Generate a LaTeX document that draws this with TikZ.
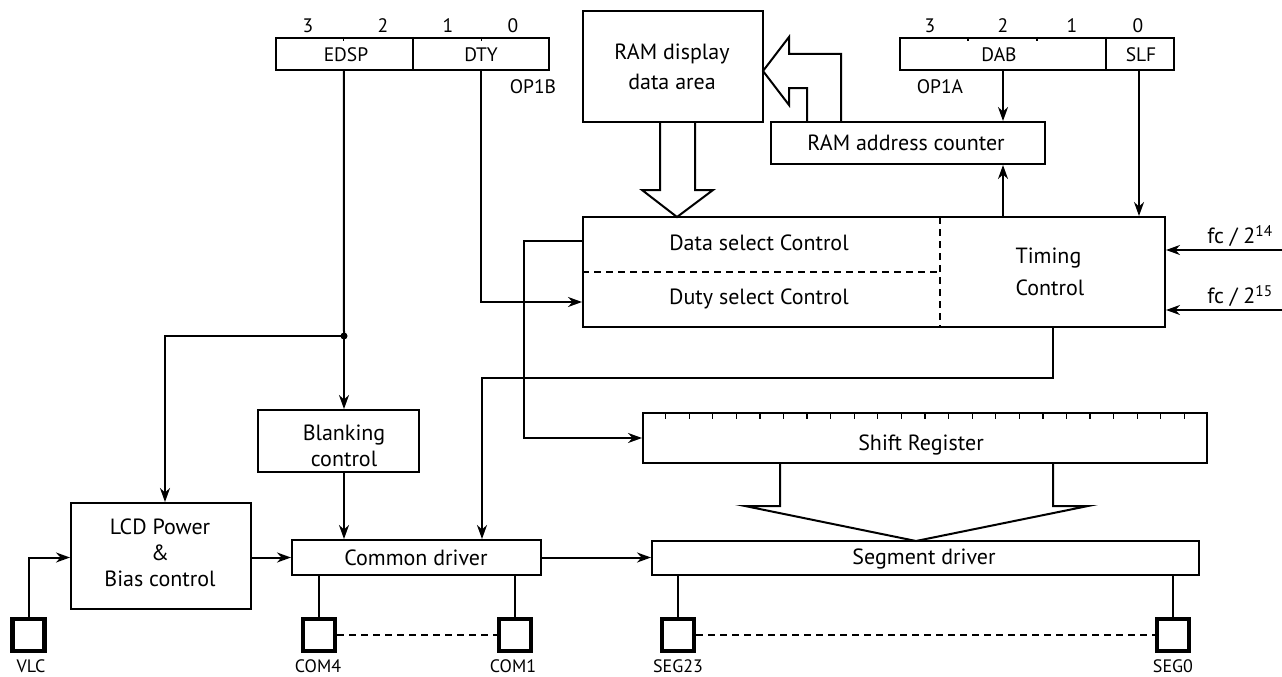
\documentclass[tikz,border=0pt]{standalone}
\usepackage{fontspec}
\setmainfont{PT Sans}
\usetikzlibrary{arrows.meta,calc}
\begin{document}
\begin{tikzpicture}[x=1pt,y=-1pt,
  box/.style={draw, line width=2pt, inner sep=0pt},
  pad/.style={draw, line width=4.5pt, minimum size=32pt, inner sep=0pt},
  wire/.style={line width=2pt},
  arr/.style={wire, -{Stealth[length=14pt,width=10pt,inset=4.5pt]}},
  dline/.style={line width=2pt, dash pattern=on 7pt off 5pt},
  lbl/.style={inner sep=0pt, font=\fontsize{22}{26}\selectfont},
  reg/.style={inner sep=0pt, font=\fontsize{19.5}{22}\selectfont},
  padlbl/.style={inner sep=0pt, font=\fontsize{18}{20}\selectfont},
  wide/.style={line width=2pt, line join=miter},
]
\useasboundingbox (0,0) rectangle (1282,677);

% ---- blocks ----
\node[box, minimum width=273pt, minimum height=32pt] (op1b) at (412.5,54) {};
\node[box, minimum width=274pt, minimum height=32pt] (op1a) at (1037,54) {};
\node[box, minimum width=180pt, minimum height=111pt] (ram) at (673,66.5) {};
\node[box, minimum width=274pt, minimum height=42pt] (rac) at (908,143) {};
\node[box, minimum width=582pt, minimum height=110pt] (ctrl) at (874,272) {};
\node[box, minimum width=564pt, minimum height=50pt] (shift) at (925,438) {};
\node[box, minimum width=161pt, minimum height=62pt] (blank) at (338.5,441) {};
\node[box, minimum width=180pt, minimum height=106pt] (lcd) at (161,556) {};
\node[box, minimum width=249pt, minimum height=35pt] (com) at (416.5,557.5) {};
\node[box, minimum width=547pt, minimum height=34pt] (seg) at (925.5,558) {};

% ---- pads ----
\node[pad] (vlc) at (28.5,635) {};
\node[pad] (com4) at (319,635) {};
\node[pad] (com1) at (515,635) {};
\node[pad] (seg23) at (678,635) {};
\node[pad] (seg0) at (1173,635) {};

% ---- register fields ----
\draw[line width=2pt] (op1b.north) -- (op1b.south);
\draw[line width=2pt] ($(op1a.north west)!0.75!(op1a.north east)$) -- ($(op1a.south west)!0.75!(op1a.south east)$);
\foreach \f in {0.25,0.75}
  \draw[line width=1.3pt] ($(op1b.north west)!\f!(op1b.north east)$) -- ++(0,4);
\foreach \f in {0.25,0.5}
  \draw[line width=1.3pt] ($(op1a.north west)!\f!(op1a.north east)$) -- ++(0,4);

\node[reg] (b3) at (308,26) {3};
\node[reg] (b2) at (383,26) {2};
\node[reg] (b1) at (448,26) {1};
\node[reg] (b0) at (513,26) {0};
\node[reg] (a3) at (930,26) {3};
\node[reg] (a2) at (1003,26) {2};
\node[reg] (a1) at (1072,26) {1};
\node[reg] (a0) at (1138,26) {0};
\node[reg] (tedsp) at (346,55) {EDSP};
\node[reg] (tdty) at (481,55) {DTY};
\node[reg] (tdab) at (999,55) {DAB};
\node[reg] (tslf) at (1141,55) {SLF};
\node[reg] (top1b) at (533,87) {OP1B};
\node[reg] (top1a) at (940,87) {OP1A};

% ---- block texts ----
\node[lbl, align=center] (tram) at (672,66.5) {RAM display\\[4pt]data area};
\node[lbl] (trac) at (906,143) {RAM address counter};
\node[lbl] (tdsel) at (759,243) {Data select Control};
\node[lbl] (tdut) at (759,299) {Duty select Control};
\node[lbl, align=left] (ttim) at (1050,272) {Timing\\[6pt]Control};
\node[lbl] (tfc14) at (1240,236) {fc / 2\textsuperscript{14}};
\node[lbl] (tfc15) at (1240,296) {fc / 2\textsuperscript{15}};
\node[lbl] (tshift) at (921,445) {Shift Register};
\node[lbl] (tseg) at (924,559) {Segment driver};
\node[lbl] (tcom) at (416,558) {Common driver};
\node[lbl, align=center] (tblank) at (344,446) {Blanking\\control};
\node[lbl, align=center] (tlcd) at (160,553) {LCD Power\\\&\\Bias control};

\node[padlbl] (lvlc) at (31,666) {VLC};
\node[padlbl] (lcom4) at (318,666) {COM4};
\node[padlbl] (lcom1) at (513,666) {COM1};
\node[padlbl] (lseg23) at (678,666) {SEG23};
\node[padlbl] (lseg0) at (1173,666) {SEG0};

% ---- control block partitions ----
\draw[dline] (940,217) -- (940,327);
\draw[dline] (ctrl.west |- 0,272) -- (940,272);

% ---- shift register stages ----
\foreach \i in {1,...,23}
  \draw[line width=1.3pt] ($(shift.north west)!\i/24!(shift.north east)$) -- ++(0,7);

% ---- connection points ----
\coordinate (edsp) at ($(op1b.south west)!0.25!(op1b.south east)$);
\coordinate (dty) at ($(op1b.south west)!0.75!(op1b.south east)$);
\coordinate (j) at (344,336);
\coordinate (dab) at (1003,70);
\coordinate (slf) at (1139,70);
\coordinate (fcA) at (1282,250);
\coordinate (fcB) at (1282,310);

% ---- connectors ----
\draw[wire] (edsp) -- (j);
\fill (j) circle (3.5pt);
\draw[arr] (j) -- (j |- blank.north);
\draw[arr] (j) -| ($(lcd.north)+(4,0)$);
\draw[arr] (dty) |- (ctrl.west |- 0,302);
\draw[arr] (ctrl.west |- 0,241) -- (524,241) |- (shift.west);
\draw[arr] (1053,327) -- (1053,378) -| ($(com.north)+(65.5,0)$);
\draw[arr] (dab) -- (dab |- rac.north);
\draw[arr] (dab |- ctrl.north) -- (dab |- rac.south);
\draw[arr] (slf) -- (slf |- ctrl.north);
\draw[arr] (fcA) -- (fcA -| ctrl.east);
\draw[arr] (fcB) -- (fcB -| ctrl.east);
\draw[arr] (j |- blank.south) -- (j |- com.north);
\draw[arr] (lcd.east |- com.west) -- (com.west);
\draw[arr] (com.east) -- (com.east -| seg.west);
\draw[arr] (vlc.north) |- (lcd.west |- com.west);

\draw[wire] (com4.north) -- (com4 |- com.south);
\draw[wire] (com1.north) -- (com1 |- com.south);
\draw[wire] (seg23.north) -- (seg23 |- seg.south);
\draw[wire] (seg0.north) -- (seg0 |- seg.south);
\draw[dline] (com4.east) -- (com1.west);
\draw[dline] (seg23.east) -- (seg0.west);

% ---- bus arrows ----
\draw[wide] (660,122) -- (660,190) -- (642,190) -- (677,217) -- (713,190) -- (695,190) -- (695,122);
\draw[wide] (841,122) -- (841,54) -- (789,54) -- (789,37) -- (763,71) -- (789,105) -- (789,88) -- (807,88) -- (807,122);
\draw[wide] (780,463) -- (780,506) -- (745,506) -- (916,541) -- (1088,506) -- (1053,506) -- (1053,463);
\end{tikzpicture}
\end{document}
